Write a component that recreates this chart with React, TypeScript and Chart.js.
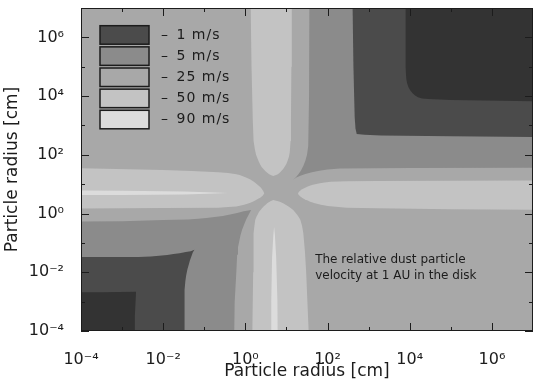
import React, { useEffect, useRef } from 'react';
import { Chart, registerables } from 'chart.js';

Chart.register(...registerables);

const FONT = '"DejaVu Sans", "Noto Sans", sans-serif';
const INK = '#1c1c1c';

// Axis range (cm) and ticks, as powers of ten
const axisMin = 1e-4;
const axisMax = 1e7;
const majorTickExps = [-4, -2, 0, 2, 4, 6];
const majorTickLabels = ['10⁻⁴', '10⁻²', '10⁰', '10²', '10⁴', '10⁶'];
const minorTickExps = [-3, -1, 1, 3, 5];

// Legend levels
const legendLabels = ['1 m/s', '5 m/s', '25 m/s', '50 m/s', '90 m/s'];
const legendColors = ['#4b4b4b', '#8b8b8b', '#a8a8a8', '#c3c3c3', '#dcdcdc'];
const belowOneColor = '#333333';

// Contour regions: vertices as [log10 radius1, log10 radius2]
const band25to50: [number, number][] = [[-5, -5], [8, -5], [8, 8], [-5, 8]];

const topRight5to25: [number, number][] = [
  [8, 8], [1.56, 8], [1.55, 4], [1.53, 2.3], [1.5, 2.0], [1.46, 1.8], [1.41, 1.62], [1.35, 1.46], [1.29, 1.34],
  [1.23, 1.24], [1.16, 1.15], [1.24, 1.23], [1.34, 1.29], [1.46, 1.35], [1.62, 1.41], [1.8, 1.46], [2.0, 1.5],
  [2.3, 1.53], [4, 1.55], [8, 1.56],
];
const topRight1to5: [number, number][] = [
  [8, 8], [2.6, 8], [2.63, 5], [2.66, 3.3], [2.68, 2.9], [2.71, 2.71], [2.9, 2.68], [3.3, 2.66], [5, 2.63], [8, 2.6],
];
const topRightBelow1: [number, number][] = [
  [8, 8], [3.9, 8], [3.9, 5], [3.91, 4.7], [3.92, 4.55], [3.94, 4.42], [3.97, 4.3], [4.01, 4.2], [4.07, 4.1],
  [4.13, 4.02], [4.2, 3.96], [4.3, 3.92], [4.45, 3.9], [5, 3.87], [8, 3.8],
];

const bottomLeft5to25: [number, number][] = [
  [-5, -5], [-0.28, -5], [-0.26, -3], [-0.22, -2], [-0.2, -1.4], [-0.18, -1.15], [-0.15, -0.95], [-0.12, -0.75],
  [-0.08, -0.55], [-0.03, -0.37], [0.02, -0.2], [0.08, -0.04], [0.14, 0.12], [-0.04, 0.08], [-0.2, 0.02],
  [-0.37, -0.03], [-0.55, -0.08], [-0.75, -0.12], [-0.95, -0.15], [-1.15, -0.18], [-1.4, -0.2], [-2, -0.22],
  [-3, -0.26], [-5, -0.28],
];
const bottomLeft1to5: [number, number][] = [
  [-5, -5], [-1.48, -5], [-1.48, -2.6], [-1.46, -2.3], [-1.44, -2.1], [-1.41, -1.9], [-1.38, -1.75], [-1.35, -1.6],
  [-1.31, -1.45], [-1.28, -1.33], [-1.24, -1.23], [-1.33, -1.28], [-1.45, -1.31], [-1.6, -1.35], [-1.75, -1.38],
  [-1.9, -1.41], [-2.1, -1.44], [-2.3, -1.46], [-2.6, -1.48], [-5, -1.48],
];
const bottomLeftBelow1: [number, number][] = [
  [-5, -5], [-2.71, -5], [-2.69, -3.5], [-2.66, -2.66], [-3.5, -2.68], [-5, -2.69],
];

const topLobe50to90: [number, number][] = [
  [0.12, 8], [0.15, 5], [0.18, 3.2], [0.2, 2.47], [0.23, 2.2], [0.26, 2.0], [0.32, 1.79], [0.36, 1.67], [0.4, 1.58],
  [0.45, 1.5], [0.49, 1.44], [0.54, 1.38], [0.58, 1.34], [0.63, 1.3], [0.68, 1.28], [0.73, 1.3], [0.78, 1.33],
  [0.83, 1.38], [0.87, 1.44], [0.92, 1.52], [0.96, 1.6], [1.0, 1.7], [1.03, 1.81], [1.06, 1.93], [1.08, 2.08],
  [1.1, 2.47], [1.11, 3.2], [1.12, 5], [1.13, 8],
];
const rightLobe50to90: [number, number][] = [
  [8, 0.12], [5, 0.15], [3.2, 0.18], [2.47, 0.2], [2.2, 0.23], [2.0, 0.26], [1.79, 0.32], [1.67, 0.36], [1.58, 0.4],
  [1.5, 0.45], [1.44, 0.49], [1.38, 0.54], [1.34, 0.58], [1.3, 0.63], [1.28, 0.68], [1.3, 0.73], [1.33, 0.78],
  [1.38, 0.83], [1.44, 0.87], [1.52, 0.92], [1.6, 0.96], [1.7, 1.0], [1.81, 1.03], [1.93, 1.06], [2.08, 1.08],
  [2.47, 1.1], [3.2, 1.11], [5, 1.12], [8, 1.13],
];
const bottomLobe50to90: [number, number][] = [
  [0.15, -5], [0.17, -4], [0.19, -2], [0.2, -0.66], [0.22, -0.42], [0.24, -0.22], [0.27, -0.11], [0.3, -0.03],
  [0.33, 0.05], [0.37, 0.12], [0.41, 0.19], [0.45, 0.25], [0.5, 0.31], [0.54, 0.36], [0.61, 0.42], [0.68, 0.46],
  [0.75, 0.44], [0.82, 0.41], [0.88, 0.38], [0.93, 0.34], [0.99, 0.29], [1.05, 0.24], [1.11, 0.18], [1.17, 0.11],
  [1.22, 0.03], [1.27, -0.06], [1.31, -0.14], [1.34, -0.22], [1.38, -0.42], [1.41, -0.66], [1.45, -1.3], [1.48, -2],
  [1.54, -4], [1.56, -5],
];
const leftLobe50to90: [number, number][] = [
  [-5, 0.15], [-4, 0.17], [-2, 0.19], [-0.66, 0.2], [-0.42, 0.22], [-0.22, 0.24], [-0.11, 0.27], [-0.03, 0.3],
  [0.05, 0.33], [0.12, 0.37], [0.19, 0.41], [0.25, 0.45], [0.31, 0.5], [0.36, 0.54], [0.42, 0.61], [0.46, 0.68],
  [0.44, 0.75], [0.41, 0.82], [0.38, 0.88], [0.34, 0.93], [0.29, 0.99], [0.24, 1.05], [0.18, 1.11], [0.11, 1.17],
  [0.03, 1.22], [-0.06, 1.27], [-0.14, 1.31], [-0.22, 1.34], [-0.42, 1.38], [-0.66, 1.41], [-1.3, 1.45], [-2, 1.48],
  [-4, 1.54], [-5, 1.56],
];

const bottomStreakAbove90: [number, number][] = [
  [0.63, -5], [0.63, -3], [0.65, -1.5], [0.68, -0.75], [0.7, -0.46], [0.72, -0.75], [0.75, -1.5], [0.78, -3], [0.79, -5],
];
const leftStreakAbove90: [number, number][] = [
  [-5, 0.63], [-3, 0.63], [-1.5, 0.65], [-0.75, 0.68], [-0.44, 0.7], [-0.75, 0.72], [-1.5, 0.75], [-3, 0.78], [-5, 0.79],
];

// Annotation
const noteLines = ['The relative dust particle', 'velocity at 1 AU in the disk'];
const noteX = 50;
const noteY = 0.027;

const regions = [
  { name: '25–50 m/s', pts: band25to50, color: legendColors[2] },
  { name: '5–25 m/s', pts: topRight5to25, color: legendColors[1] },
  { name: '5–25 m/s', pts: bottomLeft5to25, color: legendColors[1] },
  { name: '1–5 m/s', pts: topRight1to5, color: legendColors[0] },
  { name: '1–5 m/s', pts: bottomLeft1to5, color: legendColors[0] },
  { name: '<1 m/s', pts: topRightBelow1, color: belowOneColor },
  { name: '<1 m/s', pts: bottomLeftBelow1, color: belowOneColor },
  { name: '50–90 m/s', pts: topLobe50to90, color: legendColors[3] },
  { name: '50–90 m/s', pts: rightLobe50to90, color: legendColors[3] },
  { name: '50–90 m/s', pts: bottomLobe50to90, color: legendColors[3] },
  { name: '50–90 m/s', pts: leftLobe50to90, color: legendColors[3] },
  { name: '>90 m/s', pts: bottomStreakAbove90, color: legendColors[4] },
  { name: '>90 m/s', pts: leftStreakAbove90, color: legendColors[4] },
];

const decorPlugin = {
  id: 'decor',
  afterDatasetsDraw(chart: any) {
    const { ctx, chartArea: a, scales } = chart;
    const sx = scales.x;
    const sy = scales.y;
    ctx.save();
    // frame
    ctx.strokeStyle = INK;
    ctx.lineWidth = 1;
    ctx.strokeRect(a.left + 0.5, a.top + 0.5, a.right - a.left - 1, a.bottom - a.top - 1);
    const drawTicks = (exps: number[], len: number) => {
      ctx.beginPath();
      for (const e of exps) {
        const px = Math.round(sx.getPixelForValue(10 ** e)) + 0.5;
        ctx.moveTo(px, a.bottom);
        ctx.lineTo(px, a.bottom - len);
        ctx.moveTo(px, a.top);
        ctx.lineTo(px, a.top + len);
        const py = Math.round(sy.getPixelForValue(10 ** e)) + 0.5;
        ctx.moveTo(a.left, py);
        ctx.lineTo(a.left + len, py);
        ctx.moveTo(a.right, py);
        ctx.lineTo(a.right - len, py);
      }
      ctx.stroke();
    };
    drawTicks(majorTickExps, 8);
    drawTicks(minorTickExps, 4);

    // legend
    const boxL = a.left + 19;
    const boxW = 49;
    const boxH = 18.5;
    const step = 21.15;
    ctx.font = `14px ${FONT}`;
    ctx.textBaseline = 'middle';
    ctx.textAlign = 'left';
    try { (ctx as any).letterSpacing = '1px'; } catch (e) { /* ignore */ }
    legendLabels.forEach((lab, i) => {
      const top = a.top + 17.7 + i * step;
      ctx.fillStyle = legendColors[i];
      ctx.fillRect(boxL, top, boxW, boxH);
      ctx.lineWidth = 1.5;
      ctx.strokeStyle = INK;
      ctx.strokeRect(boxL, top, boxW, boxH);
      ctx.fillStyle = INK;
      ctx.fillText('–', a.left + 80, top + boxH / 2);
      ctx.fillText(lab, a.left + 95.5, top + boxH / 2);
    });
    try { (ctx as any).letterSpacing = '0px'; } catch (e) { /* ignore */ }

    // annotation
    ctx.font = `12px ${FONT}`;
    ctx.fillStyle = INK;
    const nx = sx.getPixelForValue(noteX);
    const ny = sy.getPixelForValue(noteY);
    noteLines.forEach((t, i) => ctx.fillText(t, nx, ny + i * 16.6));
    ctx.restore();
  },
};

export default function App() {
  const ref = useRef<HTMLCanvasElement | null>(null);
  useEffect(() => {
    if (!ref.current) return;
    const chart = new Chart(ref.current, {
      type: 'scatter',
      data: {
        datasets: regions.map((r, i) => ({
          label: r.name,
          data: r.pts.map(([a, b]) => ({ x: 10 ** a, y: 10 ** b })),
          showLine: true,
          fill: 'shape',
          backgroundColor: r.color,
          borderColor: 'rgba(0,0,0,0)',
          borderWidth: 0,
          pointRadius: 0,
          pointHoverRadius: 0,
          tension: 0,
          order: regions.length - i,
          clip: 0,
        })),
      } as any,
      options: {
        animation: false,
        responsive: false,
        events: [],
        layout: { padding: { top: 8, right: 2, left: 0, bottom: 0 } },
        plugins: { legend: { display: false }, tooltip: { enabled: false } },
        scales: {
          x: {
            type: 'logarithmic',
            min: axisMin,
            max: axisMax,
            afterBuildTicks: (s: any) => { s.ticks = majorTickExps.map((e) => ({ value: 10 ** e })); },
            afterFit: (s: any) => { s.height = 50; s.paddingLeft = 0; s.paddingRight = 0; },
            grid: { display: false },
            border: { display: false },
            ticks: {
              autoSkip: false,
              maxRotation: 0,
              padding: 11,
              color: INK,
              font: { family: FONT, size: 16 },
              callback: (_v: any, i: number) => majorTickLabels[i],
            },
            title: {
              display: true,
              text: 'Particle radius [cm]',
              color: INK,
              font: { family: FONT, size: 17 },
              padding: { top: 0, bottom: -1 },
            },
          },
          y: {
            type: 'logarithmic',
            min: axisMin,
            max: axisMax,
            afterBuildTicks: (s: any) => { s.ticks = majorTickExps.map((e) => ({ value: 10 ** e })); },
            afterFit: (s: any) => { s.width = 81; s.paddingTop = 0; s.paddingBottom = 0; },
            grid: { display: false },
            border: { display: false },
            ticks: {
              autoSkip: false,
              padding: 9,
              color: INK,
              font: { family: FONT, size: 16 },
              callback: (_v: any, i: number) => majorTickLabels[i],
            },
            title: {
              display: true,
              text: 'Particle radius [cm]',
              color: INK,
              font: { family: FONT, size: 17 },
              padding: { top: 2, bottom: 0 },
            },
          },
        },
      } as any,
      plugins: [decorPlugin],
    });
    return () => chart.destroy();
  }, []);
  return (
    <div style={{ position: 'fixed', left: 0, top: 0, width: 535, height: 381, background: '#fff' }}>
      <canvas ref={ref} width={535} height={381} style={{ display: 'block' }} />
    </div>
  );
}
